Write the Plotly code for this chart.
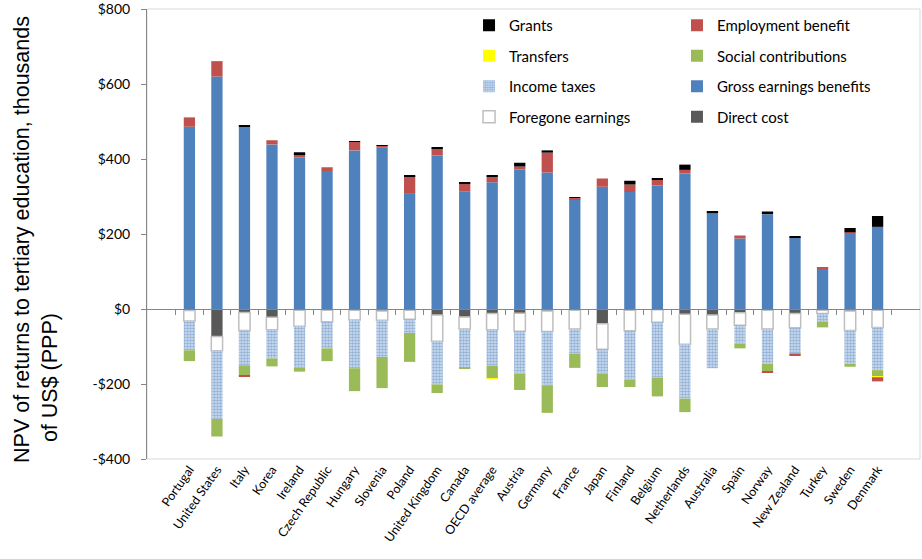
import plotly.graph_objects as go

countries = ["Portugal", "United States", "Italy", "Korea", "Ireland", "Czech Republic",
             "Hungary", "Slovenia", "Poland", "United Kingdom", "Canada", "OECD average",
             "Austria", "Germany", "France", "Japan", "Finland", "Belgium", "Netherlands",
             "Australia", "Spain", "Norway", "New Zealand", "Turkey", "Sweden", "Denmark"]

gross_earnings = [486, 620, 486, 439, 405, 368, 423, 430, 307, 409, 314, 338, 372, 364, 292,
                  326, 312, 329, 361, 254, 188, 253, 191, 108, 204, 219]
employment_pos = [25, 41, 0, 11, 8, 10, 23, 6, 47, 20, 21, 15, 8, 53, 4, 22, 20, 15, 10, 3, 8,
                  0, 0, 3, 1, 0]
grants = [0, 0, 4, 0, 5, 0, 2, 1, 2, 3, 2, 4, 10, 6, 2, 0, 10, 3, 14, 2, 0, 7, 3, 0, 11, 29]

direct_cost = [-4, -73, -9, -22, -3, -3, -3, -5, -3, -16, -21, -12, -11, -5, -3, -39, -3, -2,
               -14, -16, -10, -3, -12, -3, -5, -3]
foregone = [-28, -38, -48, -33, -43, -31, -26, -25, -24, -70, -32, -43, -48, -55, -50, -68,
            -55, -33, -80, -37, -33, -50, -38, -9, -52, -46]
income_taxes = [-78, -182, -93, -77, -111, -71, -129, -98, -37, -115, -104, -96, -113, -143,
                -66, -65, -130, -148, -145, -105, -49, -93, -68, -21, -89, -114]
social = [-29, -47, -27, -21, -10, -34, -61, -83, -77, -23, -3, -34, -44, -74, -38, -36, -20,
          -50, -36, 0, -13, -20, -3, -16, -8, -17]
transfers = [0, 0, 0, 0, 0, 0, 0, 0, 0, 0, 0, -1.5, 0, 0, 0, 0, 0, 0, 0, 0, 0, 0, -1, 0, 0, -2]
employment_neg = [0, 0, -2, 0, 0, 0, 0, 0, 0, 0, 0, 0, 0, 0, 0, 0, 0, 0, 0, 0, 0, -3, -2, 0,
                  0, -11]

y_tickvals = [-400, -200, 0, 200, 400, 600, 800]
y_ticktext = ["-$400", "-$200", "$0", "$200", "$400", "$600", "$800"]

FONT = "Lato"
fig = go.Figure()

def add_bar(name, vals, color, legend, group, rank, line_color=None, line_width=0,
            pattern=None, show=True):
    marker = dict(color=color, line=dict(color=line_color or color, width=line_width))
    if pattern:
        marker["pattern"] = pattern
    fig.add_trace(go.Bar(x=countries, y=vals, name=name, marker=marker, legend=legend,
                         legendgroup=group, legendrank=rank, showlegend=show))

# trace order controls stacking (relative mode)
add_bar("Direct cost", direct_cost, "#595959", "legend2", "dc", 4)
add_bar("Gross earnings benefits", gross_earnings, "#4F81BD", "legend2", "ge", 3)
add_bar("Foregone earnings", foregone, "#FFFFFF", "legend", "fe", 4,
        line_color="#BFBFBF", line_width=1.5)
add_bar("Income taxes", income_taxes, "#B9CDE5", "legend", "it", 3,
        pattern=dict(shape=".", fgcolor="#4F81BD", bgcolor="#D5E1F0", size=3, solidity=0.6))
add_bar("Social contributions", social, "#9BBB59", "legend2", "sc", 2)
add_bar("Transfers", transfers, "#FFFF00", "legend", "tr", 2)
add_bar("Employment benefit", employment_neg, "#C0504D", "legend2", "eb", 1, show=False)
add_bar("Employment benefit", employment_pos, "#C0504D", "legend2", "eb", 1)
add_bar("Grants", grants, "#000000", "legend", "gr", 1)

# invisible trace to draw zero-line ticks between categories
fig.add_trace(go.Scatter(x=countries, y=[0] * len(countries), xaxis="x2", mode="markers",
                         marker=dict(opacity=0), showlegend=False, hoverinfo="skip"))

legend_common = dict(font=dict(family=FONT, size=15, color="#000000"), bgcolor="rgba(0,0,0,0)",
                     tracegroupgap=8, yanchor="top", y=1.0, itemwidth=30,
                     traceorder="grouped")

fig.update_layout(
    width=922, height=559,
    margin=dict(l=147, r=2, t=9, b=100, autoexpand=False),
    paper_bgcolor="white", plot_bgcolor="white",
    barmode="relative", bargap=0.59,
    font=dict(family=FONT, size=14, color="#000000"),
    legend=dict(**legend_common, x=0.4166, xanchor="left"),
    legend2=dict(**legend_common, x=0.6856, xanchor="left"),
    xaxis=dict(type="category", tickangle=-55, showline=False, ticks="", automargin=False,
               tickfont=dict(family=FONT, size=12.5), showgrid=False),
    xaxis2=dict(type="category", overlaying="x", anchor="free", position=1/3,
                showticklabels=False, ticks="outside", ticklen=5, tickcolor="#868686",
                tickson="boundaries", showline=True, linecolor="#868686", linewidth=1,
                showgrid=False, matches="x", automargin=False),
    yaxis=dict(range=[-400, 800], tickvals=y_tickvals, ticktext=y_ticktext, showgrid=False,
               zeroline=False, showline=True, linecolor="#868686", linewidth=1,
               ticks="outside", ticklen=5, tickcolor="#868686", automargin=False,
               ticklabeloverflow="allow",
               tickfont=dict(family=FONT, size=14), ticklabelstandoff=8),
    shapes=[dict(type="rect", xref="paper", yref="paper", x0=0, x1=1, y0=0, y1=1,
                 line=dict(color="#D9D9D9", width=1), layer="below")],
    annotations=[
        dict(text="NPV of returns to tertiary education, thousands", xref="paper", yref="paper",
             x=-0.1617, y=0.4867, xanchor="center", yanchor="middle", textangle=-90,
             showarrow=False, font=dict(family="Liberation Sans", size=21.5, color="#000000")),
        dict(text="of US$ (PPP)", xref="paper", yref="paper",
             x=-0.1255, y=0.182, xanchor="center", yanchor="middle", textangle=-90,
             showarrow=False, font=dict(family="Liberation Sans", size=21.5, color="#000000")),
    ],
)

fig.write_html("out.html", config={"displayModeBar": False},
               post_script="document.body.style.margin='0px';")
